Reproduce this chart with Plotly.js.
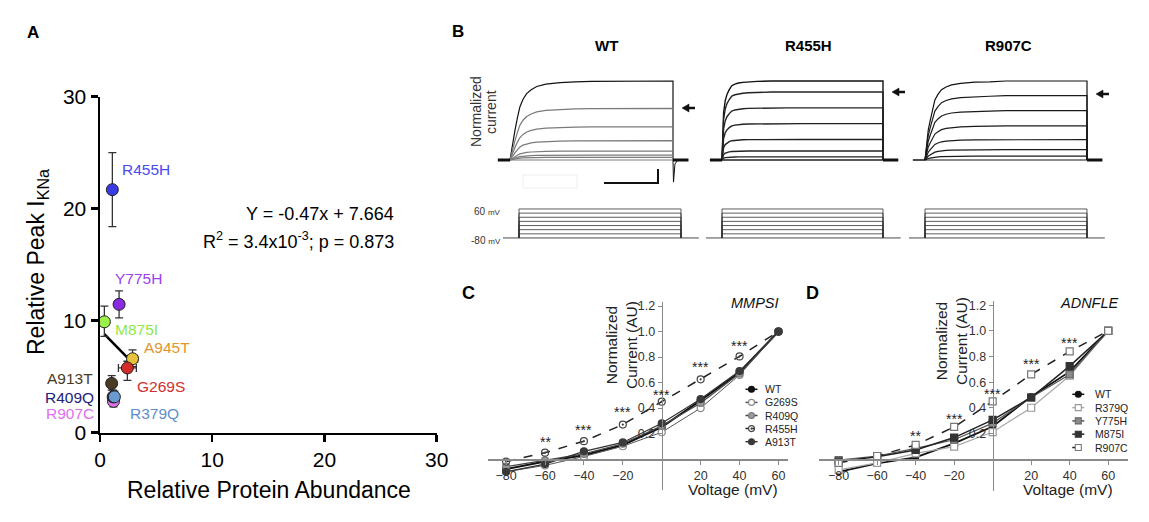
<!DOCTYPE html>
<html><head><meta charset="utf-8">
<script src="https://cdn.plot.ly/plotly-3.0.1.min.js"></script>
<style>html,body{margin:0;padding:0;background:#fff}#chart{width:1149px;height:522px}</style>
</head><body><div id="chart"></div>
<script>
// ---------------- Panel A data ----------------
const aVariants      = ['R455H','Y775H','M875I','A945T','G269S','A913T','R907C','R409Q','R379Q'];
const aAbundance     = [1.1, 1.7, 0.39, 2.9, 2.44, 1.04, 1.2, 1.17, 1.28];
const aPeak          = [21.7, 11.46, 9.9, 6.6, 5.78, 4.4, 2.8, 3.2, 3.2];
const aPeakErrPlus   = [3.3, 1.2, 1.4, 0.8, 0.6, 0.7, 0.5, 0.6, 0.5];
const aPeakErrMinus  = [3.3, 1.2, 1.3, 0.7, 1.1, 0.6, 0.5, 0.6, 0.5];
const aAbundErr      = [0, 0.4, 0, 0.45, 0.8, 0, 0.2, 0.2, 0.2];
const regX           = [0.39, 2.55];
const regY           = [8.8, 6.6];
const eqLine1        = 'Y = -0.47x + 7.664';
const eqLine2        = 'R<sup>2</sup> = 3.4x10<sup>-3</sup>; p = 0.873';

// ---------------- Panel B data ----------------
const bTitles        = ['WT','R455H','R907C'];
const stepVoltages   = [60, 40, 20, 0, -20, -40, -60];
const holdingVoltage = -80;
const stepTime       = [0, 1000];          // ms, step on / off
const holdTime       = [-100, 1110];
const baseTimePre    = [-75, 0];
const baseTimePost   = [1000, 1095];
const actTime        = [0, 5, 10, 20, 31, 45, 61, 80, 102, 130, 164, 220, 307, 400, 500, 1000];
const actWT          = [0, 0.07, 0.14, 0.26, 0.38, 0.53, 0.675, 0.77, 0.84, 0.89, 0.93, 0.96, 0.98, 0.99, 0.995, 1];
const actR455H       = [0, 0.35, 0.6, 0.75, 0.83, 0.89, 0.94, 0.96, 0.975, 0.983, 0.99, 0.995, 1, 1, 1, 1];
const actR907C       = [0, 0.12, 0.24, 0.38, 0.49, 0.63, 0.76, 0.83, 0.89, 0.925, 0.95, 0.97, 0.985, 0.99, 1, 1];
const levelsWT       = [1, 0.654, 0.421, 0.244, 0.114, 0.063, 0.034, 0];
const levelsR455H    = [1, 0.86, 0.66, 0.46, 0.26, 0.115, 0.04, 0];
const levelsR907C    = [1, 0.815, 0.626, 0.432, 0.259, 0.131, 0.049, 0];
const tailTimeWT     = [1000, 1003, 1012, 1030];
const tailCurrentWT  = [0, -0.28, -0.05, 0];

// ---------------- Panels C / D data ----------------
const ivVoltage = [-80, -60, -40, -20, 0, 20, 40, 60];
const cWT     = [-0.08, -0.02, 0.03, 0.11, 0.25, 0.46, 0.68, 1.0];
const cG269S  = [-0.1, -0.05, 0.02, 0.10, 0.21, 0.40, 0.66, 1.0];
const cR409Q  = [-0.06, -0.01, 0.04, 0.12, 0.26, 0.44, 0.67, 1.0];
const cR455H  = [-0.02, 0.05, 0.14, 0.27, 0.45, 0.625, 0.805, 1.0];
const cA913T  = [-0.1, -0.04, 0.06, 0.13, 0.28, 0.47, 0.69, 1.0];
const cStarV    = [-60, -40, -20, 0, 20, 40];
const cStarY    = [0.13, 0.23, 0.37, 0.50, 0.72, 0.89];
const cStarText = ['**', '***', '***', '***', '***', '***'];

const dWT     = [-0.1, -0.034, 0.013, 0.122, 0.253, 0.487, 0.682, 1.0];
const dR379Q  = [-0.086, -0.03, 0.044, 0.096, 0.21, 0.40, 0.65, 1.0];
const dY775H  = [-0.008, 0.023, 0.083, 0.15, 0.28, 0.48, 0.66, 1.0];
const dM875I  = [-0.02, 0.018, 0.07, 0.167, 0.305, 0.48, 0.725, 1.0];
const dR907C  = [-0.03, 0.023, 0.11, 0.25, 0.45, 0.66, 0.84, 1.0];
const dStarV    = [-40, -20, 0, 20, 40];
const dStarY    = [0.178, 0.316, 0.506, 0.738, 0.908];
const dStarText = ['**', '***', '***', '***', '***'];

// ---------------- helpers & styles ----------------
const W = 1149, H = 522;
const px = v => v / W;
const py = v => 1 - v / H;
const FONT = 'Liberation Sans, Arial, Helvetica, sans-serif';

const aMarkerColors = ['#3b3be6','#8a2be2','#9cf04a','#e8c23a','#d42a2a','#4b3b22','#e070e8','#1f1f7a','#6a9bd0'];
const aLabelStyle = {
  R455H:{x:120,y:170,c:'#4a4af0',a:'left'},  Y775H:{x:113,y:278,c:'#9a3ff0',a:'left'},
  M875I:{x:113,y:329,c:'#8ee84a',a:'left'},  A945T:{x:142,y:347,c:'#e3962e',a:'left'},
  G269S:{x:135,y:386,c:'#d03030',a:'left'},  A913T:{x:95,y:378,c:'#4a3a1e',a:'right'},
  R409Q:{x:96,y:397,c:'#22227a',a:'right'},  R907C:{x:96,y:413,c:'#e070f0',a:'right'},
  R379Q:{x:128,y:413,c:'#5e8ec8',a:'left'}
};

const traces = [];
const annotations = [];
const shapes = [];
function ann(text, x, y, o) {
  annotations.push(Object.assign({text, x: px(x), y: py(y), xref:'paper', yref:'paper',
    showarrow:false, xanchor:'center', yanchor:'middle',
    font:{family:FONT, size:14, color:'#000'}}, o || {}));
}

// ---------- Panel A ----------
traces.push({type:'scatter', mode:'lines', x:regX, y:regY, xaxis:'x', yaxis:'y',
  line:{color:'#000', width:2.5}, hoverinfo:'skip'});
traces.push({type:'scatter', mode:'markers', x:aAbundance, y:aPeak, xaxis:'x', yaxis:'y',
  cliponaxis:false,
  marker:{size:12, color:aMarkerColors, line:{color:'#222', width:1}},
  error_y:{type:'data', array:aPeakErrPlus, arrayminus:aPeakErrMinus, color:'#333', thickness:1.3, width:4},
  error_x:{type:'data', array:aAbundErr, color:'#333', thickness:1.3, width:4}});
aVariants.forEach(v => {
  const s = aLabelStyle[v];
  ann(v, s.x, s.y, {xanchor:s.a, font:{family:FONT, size:15.5, color:s.c}});
});
ann(eqLine1, 396, 214, {xanchor:'right', font:{family:FONT, size:18, color:'#000'}});
ann(eqLine2, 396, 240, {xanchor:'right', font:{family:FONT, size:18, color:'#000'}});
ann('<b>A</b>', 33, 33, {font:{family:FONT, size:17, color:'#000'}});
ann('Relative Peak I<sub>KNa</sub>', 37, 262, {textangle:-90, font:{family:FONT, size:23, color:'#000'}});
ann('Relative Protein Abundance', 269, 490, {font:{family:FONT, size:23, color:'#000'}});

// ---------- Panel B ----------
const bAct = [actWT, actR455H, actR907C];
const bLevels = [levelsWT, levelsR455H, levelsR907C];
const bColorsTop = ['#111', '#111', '#111'];
const bColorsRest = ['#7a7a7a', '#222', '#1a1a1a'];
for (let p = 0; p < 3; p++) {
  const xa = 'x' + (p + 2), ya = 'y' + (p + 2);
  bLevels[p].forEach((lev, i) => {
    traces.push({type:'scatter', mode:'lines', xaxis:xa, yaxis:ya,
      x: actTime.concat([stepTime[1]]),
      y: bAct[p].map(a => a * lev).concat([0]),
      line:{color: i === 0 ? bColorsTop[p] : bColorsRest[p], width: p === 1 ? 1.4 : 1.2},
      hoverinfo:'skip'});
  });
  traces.push({type:'scatter', mode:'lines', xaxis:xa, yaxis:ya, x:baseTimePre, y:[0,0],
    line:{color:'#111', width: p === 2 ? 1.5 : 3}, hoverinfo:'skip'});
  traces.push({type:'scatter', mode:'lines', xaxis:xa, yaxis:ya, x:baseTimePost, y:[0,0],
    line:{color:'#111', width:3}, hoverinfo:'skip'});
  // voltage protocol
  const xv = 'x' + (p + 5), yv = 'y' + (p + 5);
  stepVoltages.forEach(V => {
    traces.push({type:'scatter', mode:'lines', xaxis:xv, yaxis:yv,
      x:[stepTime[0], stepTime[0], stepTime[1], stepTime[1]],
      y:[holdingVoltage, V, V, holdingVoltage],
      line:{color:'#333', width:0.8}, hoverinfo:'skip'});
  });
  traces.push({type:'scatter', mode:'lines', xaxis:xv, yaxis:yv, x:holdTime,
    y:[holdingVoltage, holdingVoltage], line:{color:'#333', width:0.9}, hoverinfo:'skip'});
}
traces.push({type:'scatter', mode:'lines', xaxis:'x2', yaxis:'y2', x:tailTimeWT, y:tailCurrentWT,
  line:{color:'#111', width:1}, hoverinfo:'skip'});

ann('<b>B</b>', 458, 32, {font:{family:FONT, size:17, color:'#000'}});
ann('<b>' + bTitles[0] + '</b>', 606, 45, {font:{family:FONT, size:15, color:'#000'}});
ann('<b>' + bTitles[1] + '</b>', 808, 45, {font:{family:FONT, size:15, color:'#000'}});
ann('<b>' + bTitles[2] + '</b>', 1008, 45, {font:{family:FONT, size:15, color:'#000'}});
ann('Normalized', 476, 112, {textangle:-90, font:{family:FONT, size:14, color:'#333'}});
ann('current', 491, 112, {textangle:-90, font:{family:FONT, size:14, color:'#333'}});
ann('60 <span style="font-size:8px">mV</span>', 503, 211, {xanchor:'right', font:{family:FONT, size:10, color:'#333'}});
ann('-80 <span style="font-size:8px">mV</span>', 503, 240, {xanchor:'right', font:{family:FONT, size:10, color:'#333'}});
// small left-pointing arrows
[[682,108],[892,92],[1096,94]].forEach(a => {
  const x = a[0], y = a[1];
  shapes.push({type:'line', xref:'paper', yref:'paper', x0:px(x + 5), x1:px(x + 13), y0:py(y), y1:py(y),
    line:{color:'#111', width:2.5}});
  shapes.push({type:'path', xref:'paper', yref:'paper',
    path:'M' + px(x) + ',' + py(y) + ' L' + px(x + 7) + ',' + py(y - 4) + ' L' + px(x + 7) + ',' + py(y + 4) + ' Z',
    fillcolor:'#111', line:{color:'#111', width:0.5}});
});
shapes.push({type:'line', xref:'paper', yref:'paper', x0:px(604), x1:px(658), y0:py(183), y1:py(183), line:{color:'#111', width:2}});
shapes.push({type:'line', xref:'paper', yref:'paper', x0:px(658), x1:px(658), y0:py(169), y1:py(184), line:{color:'#111', width:2}});
shapes.push({type:'rect', xref:'paper', yref:'paper', x0:px(523), x1:px(577), y0:py(188), y1:py(175), line:{color:'#eeeeee', width:1}});

// ---------- Panels C & D ----------
const cSeries = [
  {name:'WT',    y:cWT,    lc:'#111', lw:2,   dash:'solid', sym:'circle',          mc:'#111', ml:'#111'},
  {name:'G269S', y:cG269S, lc:'#555', lw:1,   dash:'solid', sym:'circle',          mc:'#fff', ml:'#888'},
  {name:'R409Q', y:cR409Q, lc:'#444', lw:1.2, dash:'solid', sym:'circle',          mc:'#9a9a9a', ml:'#777'},
  {name:'R455H', y:cR455H, lc:'#222', lw:1.5, dash:'dash',  sym:'circle-open-dot', mc:'#444', ml:'#444'},
  {name:'A913T', y:cA913T, lc:'#333', lw:1.2, dash:'solid', sym:'circle',          mc:'#3a3a3a', ml:'#3a3a3a'}
];
const dSeries = [
  {name:'WT',    y:dWT,    lc:'#111', lw:1.8, dash:'solid', sym:'circle', mc:'#111', ml:'#111', ms:6},
  {name:'R379Q', y:dR379Q, lc:'#aaa', lw:1.2, dash:'solid', sym:'square', mc:'#fff', ml:'#999'},
  {name:'Y775H', y:dY775H, lc:'#555', lw:1.2, dash:'solid', sym:'square', mc:'#8a8a8a', ml:'#666'},
  {name:'M875I', y:dM875I, lc:'#222', lw:1.5, dash:'solid', sym:'square', mc:'#333', ml:'#333'},
  {name:'R907C', y:dR907C, lc:'#222', lw:1.5, dash:'dash',  sym:'square', mc:'#fff', ml:'#777'}
];
function ivTraces(series, xa, ya) {
  series.forEach(s => {
    traces.push({type:'scatter', mode:'lines+markers', xaxis:xa, yaxis:ya, x:ivVoltage, y:s.y,
      cliponaxis:false, name:s.name,
      line:{color:s.lc, width:s.lw, dash:s.dash},
      marker:{symbol:s.sym, size:s.ms || 7, color:s.mc, line:{color:s.ml, width:1.2}}});
  });
}
ivTraces(cSeries, 'x8', 'y8');
ivTraces(dSeries, 'x9', 'y9');
cStarV.forEach((v, i) => annotations.push({xref:'x8', yref:'y8', x:v, y:cStarY[i], text:cStarText[i],
  showarrow:false, font:{family:FONT, size:14, color:'#222'}}));
dStarV.forEach((v, i) => annotations.push({xref:'x9', yref:'y9', x:v, y:dStarY[i], text:dStarText[i],
  showarrow:false, font:{family:FONT, size:14, color:'#222'}}));

// legend swatches (pixel overlay axis)
function legend(series, sx, tx, y0, dy) {
  series.forEach((s, i) => {
    const yy = y0 + i * dy;
    traces.push({type:'scatter', mode:'lines', xaxis:'x10', yaxis:'y10', x:[sx - 6, sx + 6], y:[yy, yy],
      line:{color:s.lc, width:1.5, dash: s.dash === 'dash' ? 'dot' : 'solid'}, hoverinfo:'skip'});
    traces.push({type:'scatter', mode:'markers', xaxis:'x10', yaxis:'y10', x:[sx], y:[yy],
      marker:{symbol:s.sym, size:6, color:s.mc, line:{color:s.ml, width:1.1}}, hoverinfo:'skip'});
    ann(s.name, tx, yy, {xanchor:'left', font:{family:FONT, size:10.5, color:'#222'}});
  });
}
legend(cSeries, 751.5, 763, 389.3, 13.1);
legend(dSeries, 1078.3, 1093, 394.3, 13.3);

ann('<b>C</b>', 468, 293, {font:{family:FONT, size:18, color:'#000'}});
ann('<b>D</b>', 812, 293, {font:{family:FONT, size:18, color:'#000'}});
ann('<i>MMPSI</i>', 755, 303, {font:{family:FONT, size:14.5, color:'#111'}});
ann('<i>ADNFLE</i>', 1089, 303, {font:{family:FONT, size:14.5, color:'#111'}});
ann('Normalized<br>Current (AU)', 621, 345, {textangle:-90, font:{family:FONT, size:15.5, color:'#222'}});
ann('Normalized<br>Current (AU)', 951, 341, {textangle:-90, font:{family:FONT, size:15.5, color:'#222'}});
ann('Voltage (mV)', 733, 489, {font:{family:FONT, size:15.5, color:'#222'}});
ann('Voltage (mV)', 1068, 489, {font:{family:FONT, size:15.5, color:'#222'}});

// ---------------- axes ----------------
const hidden = {visible:false, showgrid:false, zeroline:false, fixedrange:true};
const axA = {showline:true, linecolor:'#000', linewidth:2.5, ticks:'outside', ticklen:7, tickwidth:2.5,
  tickcolor:'#000', showgrid:false, zeroline:false, tickvals:[0,10,20,30],
  tickfont:{family:FONT, size:21, color:'#000'}, range:[0,30]};
function ivX(dom, range, pos) {
  return {domain:dom, range:range, anchor:'free', position:pos, showline:true, linecolor:'#8a8a8a',
    linewidth:1.5, ticks:'outside', ticklen:4, tickwidth:1, tickcolor:'#8a8a8a', showgrid:false,
    zeroline:false, tickvals:[-80,-60,-40,-20,20,40,60], tickfont:{family:FONT, size:12.5, color:'#333'}};
}
function ivY(dom, range, pos) {
  return {domain:dom, range:range, anchor:'free', position:pos, showline:true, linecolor:'#8a8a8a',
    linewidth:1.5, ticks:'outside', ticklen:4, tickwidth:1, tickcolor:'#8a8a8a', showgrid:false,
    zeroline:false, tickvals:[0.2,0.4,0.6,0.8,1.0,1.2], ticktext:['0.2','0.4','0.6','0.8','1.0','1.2'],
    tickfont:{family:FONT, size:12.5, color:'#333'}};
}
const layout = {
  width:W, height:H, margin:{l:0, r:0, t:0, b:0}, showlegend:false,
  paper_bgcolor:'#fff', plot_bgcolor:'rgba(0,0,0,0)',
  xaxis: Object.assign({}, axA, {domain:[px(100), px(436.7)], anchor:'y'}),
  yaxis: Object.assign({}, axA, {domain:[py(432.7), py(96.7)], anchor:'x'}),
  xaxis2: Object.assign({}, hidden, {domain:[px(493.7), px(697.45)], range:[-100,1150], anchor:'y2'}),
  yaxis2: Object.assign({}, hidden, {domain:[py(187.65), py(73.1)], range:[-0.35,1.1], anchor:'x2'}),
  xaxis3: Object.assign({}, hidden, {domain:[px(705.9), px(907.15)], range:[-100,1150], anchor:'y3'}),
  yaxis3: Object.assign({}, hidden, {domain:[py(187.65), py(73.1)], range:[-0.35,1.1], anchor:'x3'}),
  xaxis4: Object.assign({}, hidden, {domain:[px(908.8), px(1111.3)], range:[-100,1150], anchor:'y4'}),
  yaxis4: Object.assign({}, hidden, {domain:[py(187.65), py(73.1)], range:[-0.35,1.1], anchor:'x4'}),
  xaxis5: Object.assign({}, hidden, {domain:[px(502.8), px(705.3)], range:[-100,1150], anchor:'y5'}),
  yaxis5: Object.assign({}, hidden, {domain:[py(242.1), py(206.9)], range:[-100,70], anchor:'x5'}),
  xaxis6: Object.assign({}, hidden, {domain:[px(705.9), px(907.15)], range:[-100,1150], anchor:'y6'}),
  yaxis6: Object.assign({}, hidden, {domain:[py(242.1), py(206.9)], range:[-100,70], anchor:'x6'}),
  xaxis7: Object.assign({}, hidden, {domain:[px(908.8), px(1111.3)], range:[-100,1150], anchor:'y7'}),
  yaxis7: Object.assign({}, hidden, {domain:[py(242.1), py(206.9)], range:[-100,70], anchor:'x7'}),
  xaxis8: ivX([px(488), px(788)], [-89.3, 64.9], py(459)),
  yaxis8: ivY([py(490), py(301.7)], [-0.243, 1.234], px(661.7)),
  xaxis9: ivX([px(819), px(1128)], [-90.2, 70.3], py(459)),
  yaxis9: ivY([py(490.7), py(301)], [-0.248, 1.234], px(992.7)),
  xaxis10: Object.assign({}, hidden, {domain:[0,1], range:[0,W], anchor:'y10'}),
  yaxis10: Object.assign({}, hidden, {domain:[0,1], range:[H,0], anchor:'x10'}),
  annotations, shapes
};
Plotly.newPlot('chart', traces, layout, {staticPlot:true, displayModeBar:false});
</script>
</body></html>
